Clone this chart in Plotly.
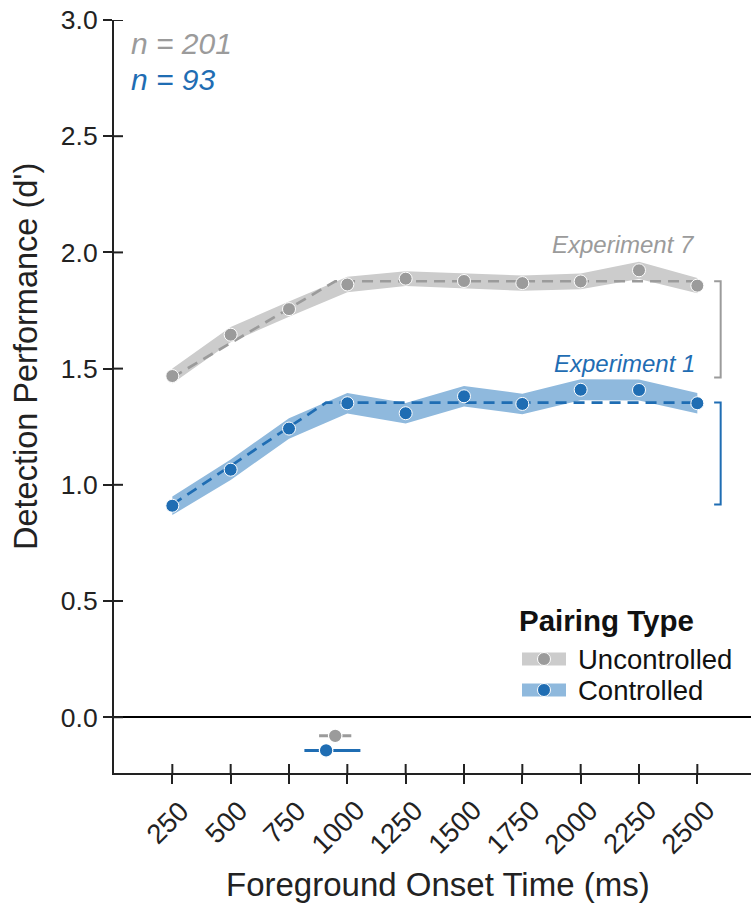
import plotly.graph_objects as go

# ---------------- data ----------------
onset = [250, 500, 750, 1000, 1250, 1500, 1750, 2000, 2250, 2500]
tick_labels = [str(v) for v in onset]

unc_mean = [1.468, 1.646, 1.756, 1.862, 1.887, 1.877, 1.868, 1.875, 1.923, 1.857]
unc_se = [0.032, 0.033, 0.033, 0.033, 0.032, 0.032, 0.033, 0.034, 0.037, 0.033]

con_mean = [0.910, 1.065, 1.242, 1.351, 1.308, 1.381, 1.348, 1.409, 1.408, 1.351]
con_se = [0.040, 0.044, 0.044, 0.044, 0.044, 0.044, 0.044, 0.045, 0.045, 0.044]

# piecewise-linear fits: start value, plateau, breakpoint (ms), breakpoint CI
unc_fit = dict(start=1.462, plateau=1.876, bp=948, bp_lo=879, bp_hi=1017)
con_fit = dict(start=0.915, plateau=1.354, bp=909, bp_lo=816, bp_hi=1056)
bp_y = {"unc": -0.08, "con": -0.143}

n_unc = 201
n_con = 93

y_ticks = [0, 0.5, 1.0, 1.5, 2.0, 2.5, 3.0]
y_tick_labels = ["0.0", "0.5", "1.0", "1.5", "2.0", "2.5", "3.0"]

# ---------------- style ----------------
GRAY = "#9b9b9b"
GRAY_BAND = "#cccccc"
BLUE = "#1f6db3"
BLUE_BAND = "#8fb9dd"
AX = "#222222"
FONT = "Liberation Sans, Arial, Helvetica, sans-serif"

W, H = 751, 905
L, R, T, B = 114, 0, 20, 132
PW, PH = W - L - R, H - T - B
X_RANGE = [0, 2730]
MS_PER_PX = (X_RANGE[1] - X_RANGE[0]) / PW

def px(xp):
    return (xp - L) / PW

def py(yp):
    return (H - B - yp) / PH

fig = go.Figure()

def add_series(mean, se, fit, color, band, name):
    upper = [m + s for m, s in zip(mean, se)]
    lower = [m - s for m, s in zip(mean, se)]
    fig.add_trace(go.Scatter(
        x=onset + onset[::-1], y=upper + lower[::-1],
        fill="toself", fillcolor=band, line=dict(width=0),
        mode="lines", hoverinfo="skip", showlegend=False))
    fx = [onset[0], fit["bp"], onset[-1]]
    fy = [fit["start"], fit["plateau"], fit["plateau"]]
    fig.add_trace(go.Scatter(
        x=fx, y=fy, mode="lines",
        line=dict(color=color, width=2.7, dash="11px,7px"),
        showlegend=False, hoverinfo="skip"))
    fig.add_trace(go.Scatter(
        x=onset, y=mean, mode="markers", name=name,
        marker=dict(size=13, color=color, line=dict(color="white", width=1)),
        showlegend=False))

add_series(unc_mean, unc_se, unc_fit, GRAY, GRAY_BAND, "Uncontrolled")
add_series(con_mean, con_se, con_fit, BLUE, BLUE_BAND, "Controlled")

# breakpoint estimates below zero
for key, fit, color in [("unc", unc_fit, GRAY), ("con", con_fit, BLUE)]:
    fig.add_trace(go.Scatter(
        x=[fit["bp"]], y=[bp_y[key]], mode="markers",
        marker=dict(size=13.5, color=color, line=dict(color="white", width=1.2)),
        error_x=dict(type="data", symmetric=False,
                     array=[fit["bp_hi"] - fit["bp"]],
                     arrayminus=[fit["bp"] - fit["bp_lo"]],
                     color=color, thickness=3, width=0),
        showlegend=False))

shapes = []
# brackets on the right
for fit, color in [(unc_fit, GRAY), (con_fit, BLUE)]:
    xb, xt = 2600, 2572
    shapes.append(dict(type="path", xref="x", yref="y",
                       path=f"M{xt},{fit['plateau']} L{xb},{fit['plateau']} L{xb},{fit['start']} L{xt},{fit['start']}",
                       line=dict(color=color, width=2)))

# inner halves of tick marks (ticks cross the spines)
for v in onset:
    shapes.append(dict(type="line", xref="x", yref="paper", ysizemode="pixel",
                       yanchor=0, x0=v, x1=v, y0=0, y1=9,
                       line=dict(color=AX, width=2)))
for v in y_ticks:
    shapes.append(dict(type="line", xref="paper", yref="y", xsizemode="pixel",
                       xanchor=0, x0=0, x1=9, y0=v, y1=v,
                       line=dict(color=AX, width=2)))

# legend keys
leg_items = [("Uncontrolled", GRAY, GRAY_BAND, 659), ("Controlled", BLUE, BLUE_BAND, 690)]
for label, color, band, yc in leg_items:
    shapes.append(dict(type="rect", xref="paper", yref="paper",
                       x0=px(522), x1=px(566), y0=py(yc + 6.5), y1=py(yc - 6.5),
                       fillcolor=band, line=dict(width=0)))
    shapes.append(dict(type="circle", xref="paper", yref="paper",
                       xsizemode="pixel", ysizemode="pixel",
                       xanchor=px(544), yanchor=py(yc),
                       x0=-6.5, x1=6.5, y0=-6.5, y1=6.5,
                       fillcolor=color, line=dict(color="white", width=1)))

annotations = []
# rotated x tick labels, centred below each tick (matplotlib-like placement)
for v, lab in zip(onset, tick_labels):
    shift_px = 5 if len(lab) <= 3 else 10
    cy = 822 if len(lab) <= 3 else 827
    annotations.append(dict(xref="x", yref="paper", x=v - shift_px * MS_PER_PX, y=py(cy),
                            text=lab, showarrow=False, textangle=-45,
                            xanchor="center", yanchor="middle",
                            font=dict(size=27.5, color="#222222", family=FONT)))

for label, color, band, yc in leg_items:
    annotations.append(dict(xref="paper", yref="paper", x=px(576), y=py(yc),
                            text=label, showarrow=False, xanchor="left", yanchor="middle",
                            font=dict(size=27.5, color="#111111", family=FONT)))
annotations.append(dict(xref="paper", yref="paper", x=px(517), y=py(620),
                        text="<b>Pairing Type</b>", showarrow=False,
                        xanchor="left", yanchor="middle",
                        font=dict(size=29.5, color="#111111", family=FONT)))

annotations += [
    dict(xref="paper", yref="paper", x=px(129), y=py(44), text=f"<i>n = {n_unc}</i>",
         showarrow=False, xanchor="left", yanchor="middle",
         font=dict(size=30, color=GRAY, family=FONT)),
    dict(xref="paper", yref="paper", x=px(129), y=py(79), text=f"<i>n = {n_con}</i>",
         showarrow=False, xanchor="left", yanchor="middle",
         font=dict(size=30, color=BLUE, family=FONT)),
    dict(xref="paper", yref="paper", x=px(697), y=py(245), text="<i>Experiment 7</i>",
         showarrow=False, xanchor="right", yanchor="middle",
         font=dict(size=24, color=GRAY, family=FONT)),
    dict(xref="paper", yref="paper", x=px(697), y=py(363), text="<i>Experiment 1</i>",
         showarrow=False, xanchor="right", yanchor="middle",
         font=dict(size=24, color=BLUE, family=FONT)),
    dict(xref="paper", yref="paper", x=px(26), y=py(357), text="Detection Performance (d')",
         showarrow=False, xanchor="center", yanchor="middle", textangle=-90,
         font=dict(size=32.5, color="#222222", family=FONT)),
    dict(xref="paper", yref="paper", x=px(438), y=py(884), text="Foreground Onset Time (ms)",
         showarrow=False, xanchor="center", yanchor="middle",
         font=dict(size=33, color="#222222", family=FONT)),
]

fig.update_layout(
    width=W, height=H,
    margin=dict(l=L, r=R, t=T, b=B, autoexpand=False),
    paper_bgcolor="white", plot_bgcolor="white",
    showlegend=False,
    shapes=shapes, annotations=annotations,
    font=dict(family=FONT, color="#222222"),
    xaxis=dict(range=X_RANGE, tickmode="array", tickvals=onset, ticktext=tick_labels,
               showticklabels=False,
               ticks="outside", ticklen=9, tickwidth=2, tickcolor=AX,
               showline=True, linecolor=AX, linewidth=2, showgrid=False, zeroline=False),
    yaxis=dict(range=[-0.24, 3.0], tickmode="array",
               tickvals=y_ticks, ticktext=y_tick_labels,
               ticks="outside", ticklen=9, tickwidth=2, tickcolor=AX,
               showline=True, linecolor=AX, linewidth=2, showgrid=False,
               zeroline=True, zerolinecolor="black", zerolinewidth=2,
               tickfont=dict(size=26.5, color="#222222", family=FONT)),
)

fig.write_html("out.html",
               config={"displayModeBar": False},
               post_script="document.body.style.margin='0px';document.body.style.overflow='hidden';")
